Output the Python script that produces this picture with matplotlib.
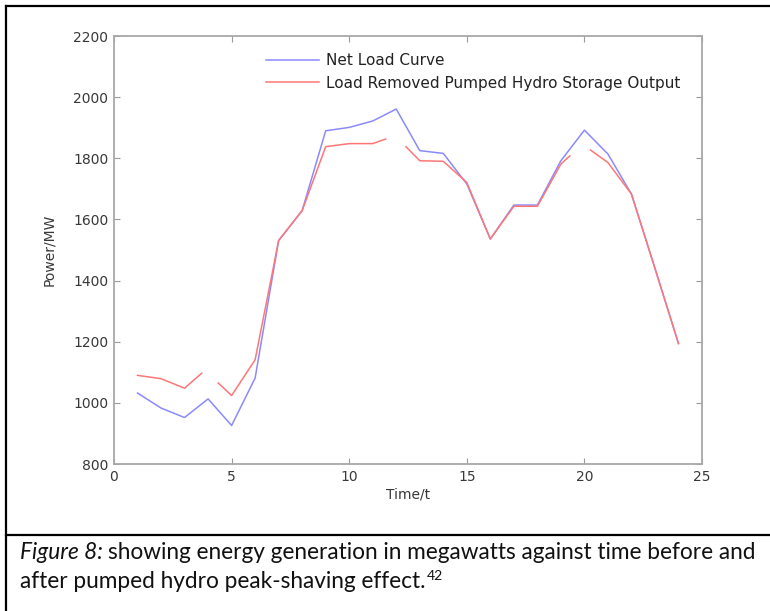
import numpy as np
import matplotlib
matplotlib.use("Agg")
import matplotlib.pyplot as plt
from matplotlib.lines import Line2D

nan = np.nan

# hourly net load (MW)
hours = list(range(1, 25))
net_load = [1032, 983, 952, 1013, 926, 1081, 1531, 1629, 1890, 1901, 1922, 1961,
            1825, 1816, 1716, 1536, 1647, 1647, 1792, 1892, 1814, 1683, 1440, 1194]

# load with pumped hydro output removed; the curve is broken in four pieces
shaved_time = [1, 2, 3, 3.73, nan,
               4.43, 5, 6, 7, 8, 9, 10, 11, 11.55, nan,
               12.41, 13, 14, 15, 16, 17, 18, 19, 19.38, nan,
               20.26, 21, 22, 23, 24]
shaved_load = [1090, 1079, 1048, 1097, nan,
               1065, 1024, 1141, 1531, 1629, 1838, 1848, 1848, 1863, nan,
               1838, 1792, 1790, 1721, 1536, 1643, 1643, 1781, 1808, nan,
               1827, 1786, 1683, 1440, 1194]

labels = ["Net Load Curve", "Load Removed Pumped Hydro Storage Output"]
x_ticks = [0, 5, 10, 15, 20, 25]
y_ticks = [800, 1000, 1200, 1400, 1600, 1800, 2000, 2200]

W, H = 770, 611
fig = plt.figure(figsize=(W / 100, H / 100), dpi=100)
ax = fig.add_axes([114 / W, 1 - 464 / H, 588 / W, 428 / H])

ax.plot(hours, net_load, color="#8a8aff", lw=1.1, label=labels[0])
ax.plot(shaved_time, shaved_load, color="#ff7676", lw=1.1, label=labels[1])

ax.set_xlim(0, 25)
ax.set_ylim(800, 2200)
ax.set_xticks(x_ticks)
ax.set_yticks(y_ticks)
ax.tick_params(direction="in", length=4, width=0.8, top=True, right=True,
               color="#9a9a9a", labelcolor="#383838", labelsize=10, pad=4)
for s in ax.spines.values():
    s.set_color("#a8a8a8")
    s.set_linewidth(1.3)

ax.set_xlabel("Time/t", fontsize=10, color="#383838", labelpad=3)
ax.set_ylabel("Power/MW", fontsize=10, color="#383838", labelpad=12)

ax.legend(loc="upper left", bbox_to_anchor=(0.2585, 0.96), frameon=False,
          handlelength=3.5, handletextpad=0.4, labelspacing=0.5,
          borderpad=0, borderaxespad=0, fontsize=11, labelcolor="#222222")

# frame lines of the document table
black = dict(color="black", lw=1.6, transform=fig.transFigure)
fig.add_artist(Line2D([6 / W, 1], [1 - 6 / H, 1 - 6 / H], **black))
fig.add_artist(Line2D([6 / W, 6 / W], [0, 1 - 6 / H], **black))
fig.add_artist(Line2D([6 / W, 1], [1 - 535 / H, 1 - 535 / H], **black))

# caption, written piece by piece
renderer = fig.canvas.get_renderer()
cap_font = dict(family="Lato", size=16.3, color="#111111")


def put(x, y, s, **kw):
    t = fig.text(x, y, s, va="baseline", ha="left", **{**cap_font, **kw})
    bb = t.get_window_extent(renderer)
    return bb.x1 / W


x = put(20 / W, 1 - 559 / H, "Figure 8:", style="italic")
put(x + 5 / W, 1 - 559 / H,
    "showing energy generation in megawatts against time before and")
x = put(20 / W, 1 - 588 / H, "after pumped hydro peak-shaving effect.")
put(x + 1 / W, 1 - 580 / H, "42", size=10)

fig.savefig("out.png", dpi=100)
